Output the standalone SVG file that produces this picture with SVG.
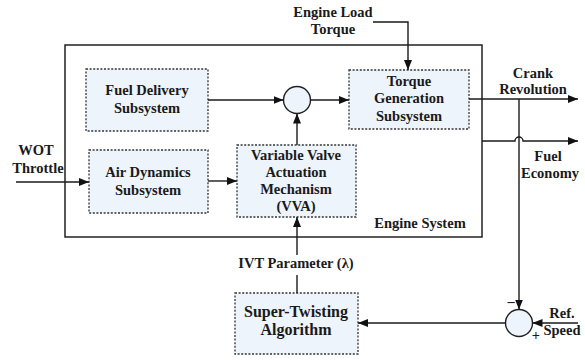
<svg xmlns="http://www.w3.org/2000/svg" width="585" height="360" viewBox="0 0 585 360">
  <defs>
    <marker id="arrow" viewBox="0 0 10 8" refX="10" refY="4" markerWidth="10" markerHeight="8" markerUnits="userSpaceOnUse" orient="auto">
      <path d="M0,0 L10,4 L0,8 z" fill="#111"/>
    </marker>
  </defs>

  <rect x="0" y="0" width="585" height="360" fill="#ffffff"/>

  <!-- engine system boundary -->
  <g id="engine-system" font-family="Liberation Serif" font-weight="bold" font-size="14.5" text-anchor="middle" fill="#1a1a1a">
    <rect x="65" y="45" width="417" height="192" fill="none" stroke="#222" stroke-width="1.5"/>
    <text x="420" y="228" font-family="Liberation Serif">Engine System</text>
  </g>

  <g id="fuel-delivery" font-family="Liberation Serif" font-weight="bold" font-size="14.5" text-anchor="middle" fill="#1a1a1a">
    <rect x="86" y="69" width="122" height="62" fill="#eef4fb" stroke="#333" stroke-width="1.3" stroke-dasharray="2 1.6"/>
    <text x="147" y="95" font-family="Liberation Serif">Fuel Delivery</text>
    <text x="147" y="113" font-family="Liberation Serif">Subsystem</text>
  </g>

  <g id="air-dynamics" font-family="Liberation Serif" font-weight="bold" font-size="14.5" text-anchor="middle" fill="#1a1a1a">
    <rect x="89" y="150" width="119" height="63" fill="#eef4fb" stroke="#333" stroke-width="1.3" stroke-dasharray="2 1.6"/>
    <text x="148" y="177" font-family="Liberation Serif">Air Dynamics</text>
    <text x="148" y="195" font-family="Liberation Serif">Subsystem</text>
  </g>

  <g id="vva" font-family="Liberation Serif" font-weight="bold" font-size="14.5" text-anchor="middle" fill="#1a1a1a">
    <rect x="237" y="145" width="119" height="72" fill="#eef4fb" stroke="#333" stroke-width="1.3" stroke-dasharray="2 1.6"/>
    <text x="296" y="160" font-family="Liberation Serif">Variable Valve</text>
    <text x="296" y="177" font-family="Liberation Serif">Actuation</text>
    <text x="296" y="194" font-family="Liberation Serif">Mechanism</text>
    <text x="296" y="211" font-family="Liberation Serif">(VVA)</text>
  </g>

  <g id="junction-top">
    <circle cx="297" cy="100" r="13.5" fill="#eef4fb" stroke="#222" stroke-width="1.4"/>
  </g>

  <g id="torque-generation" font-family="Liberation Serif" font-weight="bold" font-size="14.5" text-anchor="middle" fill="#1a1a1a">
    <rect x="349" y="70" width="120" height="59" fill="#eef4fb" stroke="#333" stroke-width="1.3" stroke-dasharray="2 1.6"/>
    <text x="409" y="86" font-family="Liberation Serif">Torque</text>
    <text x="409" y="103" font-family="Liberation Serif">Generation</text>
    <text x="409" y="121" font-family="Liberation Serif">Subsystem</text>
  </g>

  <g id="super-twisting" font-family="Liberation Serif" font-weight="bold" font-size="16" text-anchor="middle" fill="#1a1a1a">
    <rect x="235" y="293" width="123" height="61" fill="#eef4fb" stroke="#333" stroke-width="1.3" stroke-dasharray="2 1.6"/>
    <text x="296" y="317" font-family="Liberation Serif">Super-Twisting</text>
    <text x="296" y="335" font-family="Liberation Serif">Algorithm</text>
  </g>

  <g id="junction-bottom" font-family="Liberation Serif" font-weight="bold" font-size="14.5" text-anchor="middle" fill="#1a1a1a">
    <circle cx="519" cy="323" r="13.5" fill="#eef4fb" stroke="#222" stroke-width="1.4"/>
    <text x="511" y="306" font-family="Liberation Serif">–</text>
    <text x="536" y="340" font-family="Liberation Serif">+</text>
  </g>

  <!-- signal labels -->
  <g id="labels" font-family="Liberation Serif" font-weight="bold" font-size="14.5" text-anchor="middle" fill="#1a1a1a">
    <text x="333" y="17" font-family="Liberation Serif">Engine Load</text>
    <text x="333" y="34" font-family="Liberation Serif">Torque</text>
    <text x="533" y="78" font-family="Liberation Serif">Crank</text>
    <text x="533" y="94" font-family="Liberation Serif">Revolution</text>
    <text x="548" y="161" font-family="Liberation Serif">Fuel</text>
    <text x="550" y="178" font-family="Liberation Serif">Economy</text>
    <text x="36" y="155" font-family="Liberation Serif">WOT</text>
    <text x="38" y="173" font-family="Liberation Serif">Throttle</text>
    <text x="296" y="268" font-family="Liberation Serif">IVT Parameter (λ)</text>
    <text x="562" y="318" font-family="Liberation Serif">Ref.</text>
    <text x="562" y="335" font-family="Liberation Serif">Speed</text>
  </g>

  <g id="connectors" fill="none" stroke="#1a1a1a" stroke-width="1.4">
    <!-- load torque into torque generation -->
    <path d="M373,22 H408 V70" marker-end="url(#arrow)"/>
    <!-- fuel delivery to junction -->
    <path d="M208,100 H283.5" marker-end="url(#arrow)"/>
    <!-- junction to torque generation -->
    <path d="M310.5,100 H349" marker-end="url(#arrow)"/>
    <!-- VVA to junction -->
    <path d="M297,145 V113.5" marker-end="url(#arrow)"/>
    <!-- throttle input -->
    <path d="M16,182 H89" marker-end="url(#arrow)"/>
    <!-- air dynamics to VVA -->
    <path d="M208,181 H237" marker-end="url(#arrow)"/>
    <!-- crank revolution output -->
    <path d="M469,99 H578" marker-end="url(#arrow)"/>
    <!-- fuel economy output, hopping over the feedback line -->
    <path d="M482,141 H515 a4,4 0 0 1 8,0 H578" marker-end="url(#arrow)"/>
    <!-- speed feedback -->
    <path d="M519,99 V309.5" marker-end="url(#arrow)"/>
    <!-- reference speed -->
    <path d="M578,323 H532.5" marker-end="url(#arrow)"/>
    <!-- error to controller -->
    <path d="M505.5,323 H358" marker-end="url(#arrow)"/>
    <!-- controller output to VVA -->
    <path d="M297,293 V275"/>
    <path d="M297,255 V217" marker-end="url(#arrow)"/>
  </g>
</svg>
